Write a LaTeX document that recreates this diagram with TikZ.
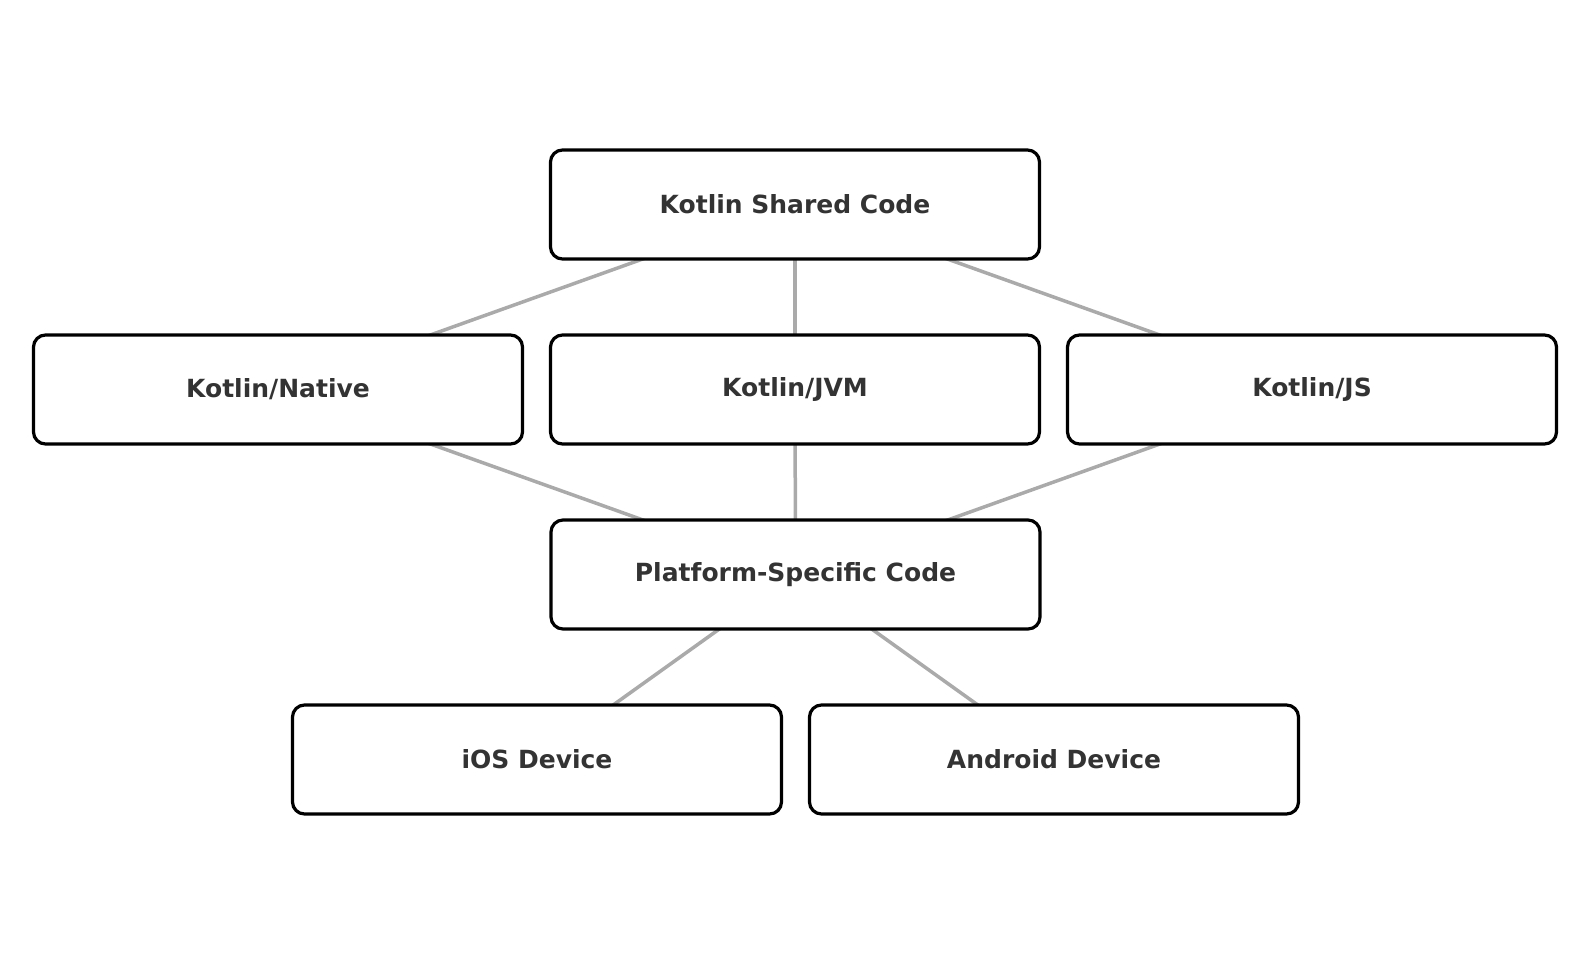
\documentclass[tikz,border=0pt]{standalone}
\usepackage{fontspec}
\setmainfont{DejaVu Sans}
\usetikzlibrary{backgrounds}
\definecolor{txt}{HTML}{333333}
\definecolor{conn}{HTML}{AAAAAA}
\begin{document}
\begin{tikzpicture}[x=1pt,y=-1pt,
  box/.style={draw=black, line width=3.2pt, fill=white, rounded corners=12pt,
    minimum width=489pt, minimum height=109pt, inner sep=0pt,
    font=\fontsize{25}{29}\selectfont\bfseries, text=txt},
  link/.style={draw=conn, line width=3.5pt}]
\useasboundingbox (0,0) rectangle (1589,964);
\node[box] (shared) at (795,204.5) {Kotlin Shared Code};
\node[box] (native) at (278,389.5) {Kotlin/Native};
\node[box] (jvm) at (795,389.5) {Kotlin/JVM};
\node[box] (js) at (1312,389.5) {Kotlin/JS};
\node[box] (plat) at (795.5,574.5) {Platform-Specific Code};
\node[box] (ios) at (537,759.5) {iOS Device};
\node[box] (android) at (1054,759.5) {Android Device};
\begin{pgfonlayer}{background}
\draw[link] (shared.center) -- (native.center);
\draw[link] (shared.center) -- (jvm.center);
\draw[link] (shared.center) -- (js.center);
\draw[link] (native.center) -- (plat.center);
\draw[link] (jvm.center) -- (plat.center);
\draw[link] (js.center) -- (plat.center);
\draw[link] (plat.center) -- (ios.center);
\draw[link] (plat.center) -- (android.center);
\end{pgfonlayer}
\end{tikzpicture}
\end{document}
